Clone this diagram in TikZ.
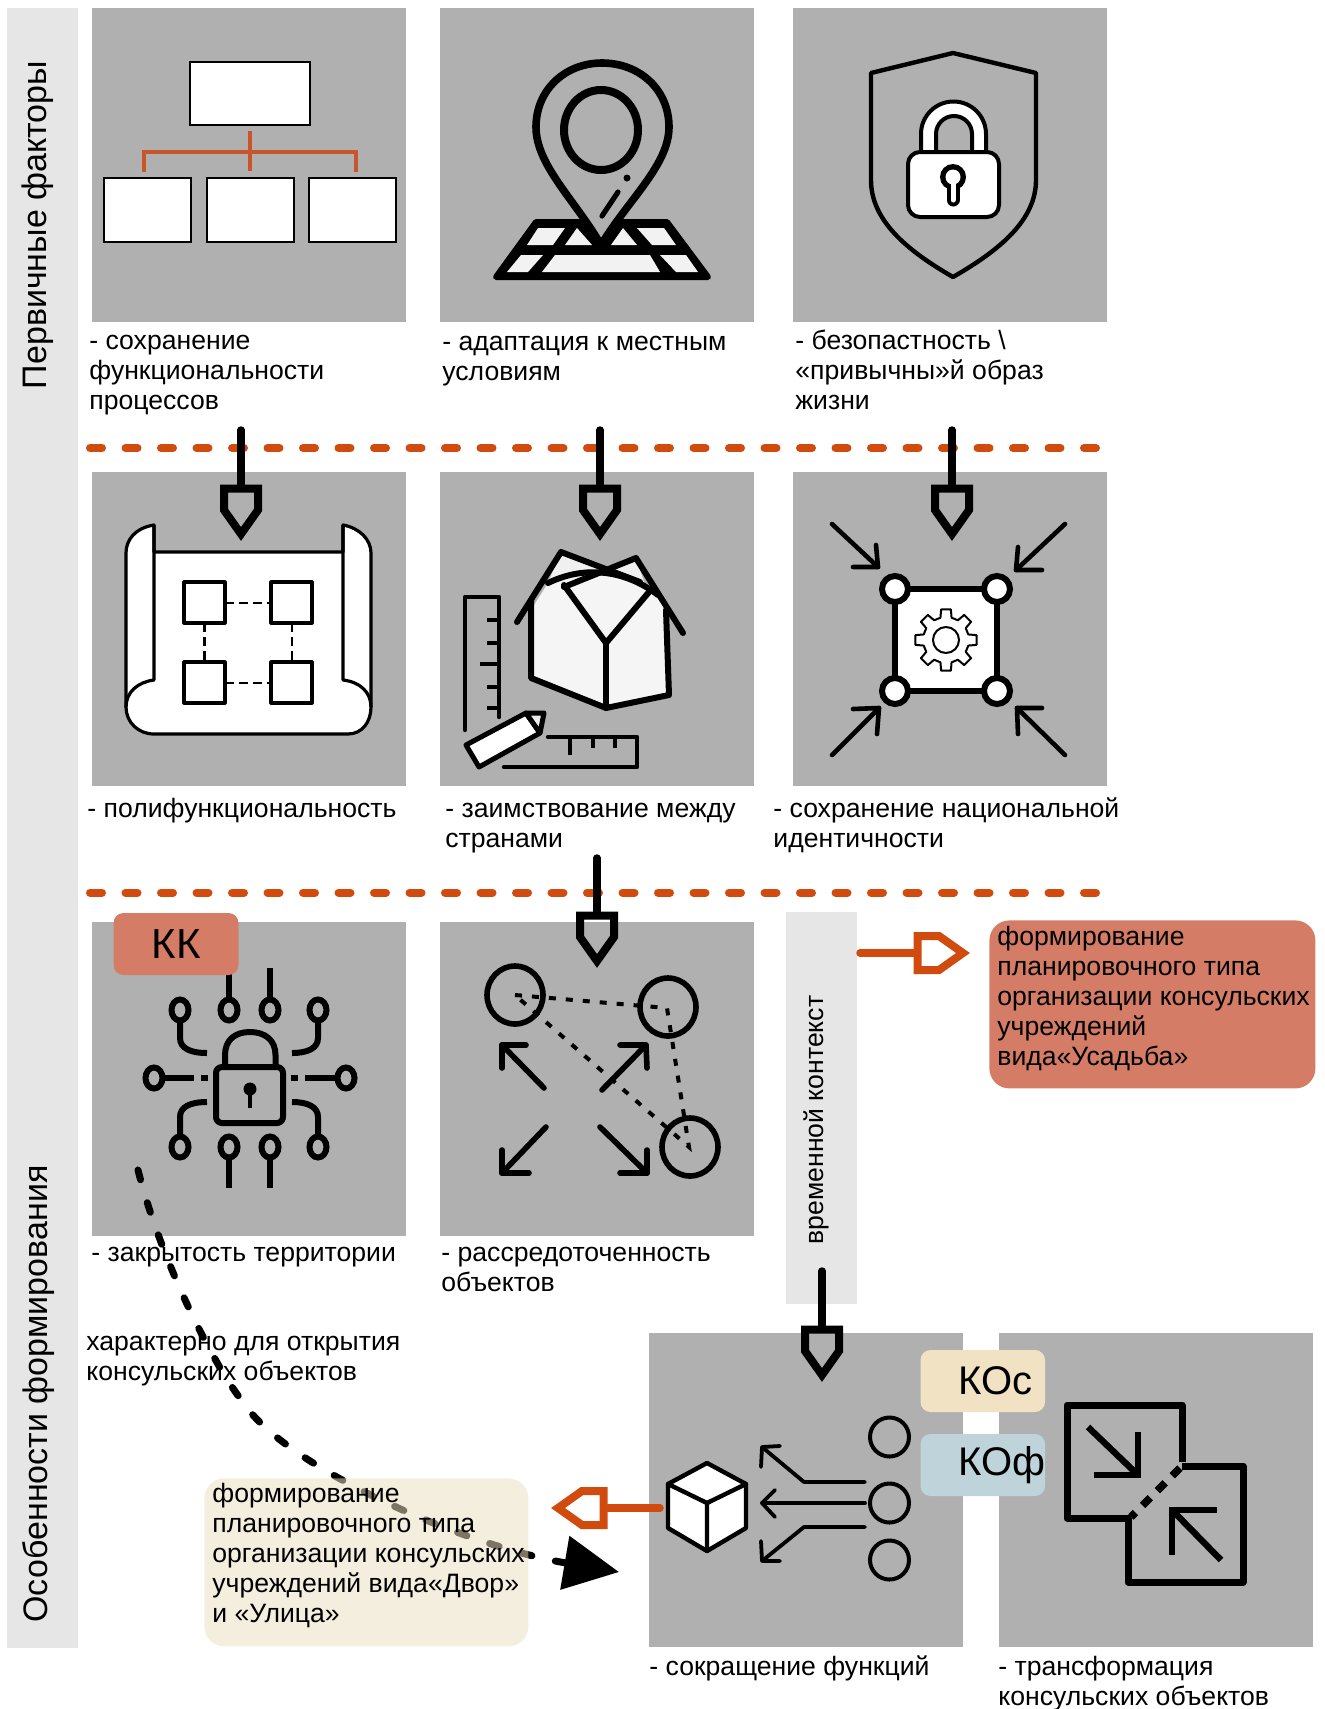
\documentclass[tikz,border=0pt]{standalone}
\usepackage{fontspec}
\setmainfont{Liberation Sans}
\usetikzlibrary{arrows.meta}
\definecolor{panelgrey}{HTML}{B0B0B0}
\definecolor{bandgrey}{HTML}{E6E6E6}
\definecolor{rust}{HTML}{D14B0F}
\definecolor{branch}{HTML}{C9552B}
\definecolor{kkred}{HTML}{D57C66}
\definecolor{kosand}{HTML}{F2E2C4}
\definecolor{kofblue}{HTML}{BFD4DA}
\definecolor{creambase}{RGB}{235,222,192}
\tikzset{
  headpent/.pic={
    \draw[line width=4pt,miter limit=10,pic actions] (-17,4.5) -- (17,4.5) -- (17,26) -- (0,50) -- (-17,26) -- cycle;
  }
}

\begin{document}
\begin{tikzpicture}[x=0.5pt, y=-0.5pt]
        \tikzstyle{panel}=[fill=panelgrey,minimum size=157pt,inner sep=0pt,anchor=north west]
        \tikzstyle{band}=[fill=bandgrey,inner sep=0pt,anchor=north west,minimum width=35.5pt]
        \tikzstyle{caption}=[inner sep=0pt,anchor=north west,align=left,font=\fontsize{13.3}{15}\selectfont]
        \tikzstyle{sidetext}=[rotate=90,inner sep=0pt]
        \tikzstyle{tag}=[rounded corners=5pt,inner sep=0pt,minimum height=31pt,font=\fontsize{20}{22}\selectfont]
        \tikzstyle{notebox}=[rounded corners=10pt,inner sep=0pt,anchor=north west]
        \tikzstyle{shaft}=[line width=3.75pt,line cap=round]
        \tikzstyle{divider}=[rust,line width=4pt,line cap=round,dash pattern=on 6pt off 11.75pt]
        \tikzstyle{ink}=[line width=2.8pt,line join=round,line cap=round]
        \tikzstyle{thinink}=[line width=1.6pt,line join=round]
        \useasboundingbox (0,0) rectangle (1325,1709);

        \node[band,minimum height=820pt] (B_1) at (7,8) {};
        \node[band,minimum height=196pt] (B_2) at (786,912) {};
        \foreach \name/\x/\y in {P_1/92/8,P_2/440/8,P_3/793/8,P_4/92/472,P_5/440/472,P_6/793/472,P_7/92/922,P_8/440/922,P_9/649/1333,P_10/999/1333}
            \node[panel] (\name) at (\x,\y) {};

        \node[sidetext,font=\fontsize{17}{20}\selectfont] (S_1) at (38,225) {Первичные факторы};
        \node[sidetext,font=\fontsize{17}{20}\selectfont] (S_2) at (39,1394) {Особенности формирования};
        \node[sidetext,font=\fontsize{13.3}{15}\selectfont] (S_3) at (816,1120) {временной контекст};

        % org chart
        \foreach \x/\y/\w/\h in {190/62/120/63,104/178/87/64,207/178/87/64,309/178/87/64}
            \draw[fill=white,line width=1.2pt] (\x,\y) rectangle ++(\w,\h);
        \draw[branch,line width=1.6pt] (250,131) -- (250,171);
        \draw[branch,line width=1.6pt] (144,172) -- (144,152) -- (356,152) -- (356,172);

        % map with pin
        \draw[ink,fill=black,line width=3pt] (536,222) -- (667,222) -- (708,277) -- (496,277) -- cycle;
        \fill[black!5] (538,228) -- (565,228) -- (553,245) -- (527,245) -- cycle
            (577,228) -- (592,245) -- (565,245) -- cycle
            (623,228) -- (637,245) -- (611,245) -- cycle
            (637,228) -- (664,228) -- (676,245) -- (652,245) -- cycle
            (521,255) -- (543,255) -- (528,272) -- (507,272) -- cycle
            (555,255) -- (650,255) -- (660,272) -- (542,272) -- cycle
            (660,255) -- (686,255) -- (698,272) -- (676,272) -- cycle;
        \draw[line width=3.8pt,fill=panelgrey,line join=round] (601,245) .. controls (575,200) and (536,165) .. (536,127) .. controls (536,90) and (565,63) .. (602,63) .. controls (640,63) and (669,90) .. (669,127) .. controls (669,165) and (628,200) .. (601,245) -- cycle;
        \draw[line width=4pt] (601,130) ellipse (37 and 40);
        \fill (627,178) circle (3.5);
        \draw[line width=2.6pt,line cap=round] (618,192) -- (602,216);

        % shield with lock
        \draw[line width=2.2pt,line join=round] (953,53) -- (1036,73) -- (1036,180) .. controls (1036,220) and (1000,250) .. (953,277) .. controls (906,250) and (871,220) .. (871,180) -- (871,73) -- cycle;
        \draw[thinink,line width=2pt,fill=white,even odd rule] (921,160) -- (921,134) arc (180:360:32.5) -- (986,160) -- cycle (936,152) -- (936,134) arc (180:360:18) -- (972,152) -- cycle;
        \draw[thinink,line width=2pt,fill=white,rounded corners=6pt] (908,152) rectangle (999,217);
        \fill (953,177) circle (13);
        \draw[line width=6.5pt,line cap=round] (953,180) -- (953,200);
        \fill[white] (953,177) circle (7.5);
        \draw[white,line width=2.5pt,line cap=round] (953,180) -- (953,200);

        % blueprint
        \draw[thinink,fill=white] (154,525) .. controls (135,528) and (126,540) .. (126,553) -- (126,707) .. controls (126,722) and (138,734) .. (154,734) -- (348,734) .. controls (362,734) and (371,722) .. (371,707) -- (371,553) .. controls (371,540) and (360,528) .. (343,525) -- (343,552) -- (154,552) -- cycle;
        \draw[thinink] (154,525) -- (154,680) .. controls (138,682) and (126,692) .. (126,707);
        \draw[thinink] (343,525) -- (343,680) .. controls (360,682) and (371,692) .. (371,707);
        \foreach \x/\y in {184/582,271/582,184/662,271/662}
            \draw[thinink] (\x,\y) rectangle ++(41,41);
        \foreach \a/\b/\c/\d in {225/603/271/603,225/683/271/683,204.5/623/204.5/662,292/623/292/662}
            \draw[line width=1.3pt,dash pattern=on 4.5pt off 2.5pt] (\a,\b) -- (\c,\d);

        % house
        \fill[black!4] (531,678) -- (606,708) -- (669,695) -- (666,610) -- (658,595) .. controls (625,570) and (585,565) .. (548,583) -- (531,610) -- cycle;
        \fill[black!6] (561,552) -- (606,570) -- (548,583) -- cycle (636,558) -- (606,570) -- (645,585) -- cycle;
        \draw[ink,line width=3pt] (531,600) -- (531,678) -- (606,708) -- (669,695) -- (666,610);
        \draw[ink,line width=3pt] (517,622) -- (561,552) -- (640,582);
        \draw[ink,line width=3pt] (683,633) -- (636,558) -- (564,587);
        \draw[ink,line width=3pt] (548,583) .. controls (585,565) and (625,570) .. (658,595);
        \draw[ink,line width=3pt] (564,585) -- (606,643) -- (649,592);
        \draw[ink,line width=3pt] (606,643) -- (606,708);
        \draw[line width=2.2pt,line join=round,line cap=round] (465,730) -- (465,597) -- (499,597) -- (499,717);
        \foreach \y/\x in {620/487,643/487,664/480,687/487,708/487}
            \draw[line width=2.2pt] (\x,\y) -- (499,\y);
        \draw[ink,line width=2.5pt,fill=white] (466,745) -- (479,767) -- (540,733) -- (526,713) -- cycle;
        \draw[ink,line width=2.5pt,fill=black!8] (526,713) -- (544,713) -- (540,733) -- cycle;
        \draw[line width=2.2pt,line join=round,line cap=round] (548,737) -- (637,737) -- (637,767) -- (504,767);
        \foreach \x/\y in {570/755,593/748,615/748}
            \draw[line width=2.2pt] (\x,737) -- (\x,\y);

        % square with gear
        \draw[line width=3pt,fill=white] (895,589) rectangle (997,691);
        \foreach \x/\y in {895/589,997/589,895/691,997/691}
            \draw[line width=3pt,fill=white] (\x,\y) circle (13);
        \draw[line width=1pt,fill=white,shift={(946,640)},line join=round] (-14:23) \foreach \a in {0,45,...,315}{ -- (\a-14:23) -- (\a-9:31) -- (\a+9:31) -- (\a+14:23)} -- cycle;
        \draw[line width=1pt] (946,640) circle (13);
        \foreach \a/\b/\c/\d/\e/\f/\g/\h in {832/524/878/567/853/567/876/545,1065/524/1016/570/1042/570/1018/547,832/755/879/708/853/709/877/734,1065/755/1017/708/1042/708/1018/734}{
            \draw[ink,line width=2.3pt] (\a,\b) -- (\c,\d);
            \draw[ink,line width=2.3pt] (\e,\f) -- (\c,\d) -- (\g,\h);
        }

        % circuit lock
        \draw[ink,line width=3pt,line cap=butt,rounded corners=3pt] (216,1067) rectangle (283,1123);
        \draw[ink,line width=3pt] (225,1067) -- (225,1055) .. controls (225,1040) and (235,1032) .. (250,1032) .. controls (265,1032) and (275.5,1040) .. (275.5,1055) -- (275.5,1067);
        \fill (250,1089) circle (6.5);
        \draw[line width=2.4pt] (250,1089) -- (250,1108);
        \foreach \x/\y in {180/1010,229/1010,270/1010,318/1010,180/1147,229/1147,270/1147,318/1147,154/1078,346/1078}
            \draw[line width=3pt] (\x,\y) ellipse (8.5 and 10.5);
        \foreach \x in {229,270}{
            \draw[line width=3pt] (\x,1000) -- (\x,968);
            \draw[line width=3pt] (\x,1157) -- (\x,1188);
        }
        \draw[line width=3pt] (180,1020) -- (180,1038) .. controls (180,1048) and (190,1053) .. (207,1053);
        \draw[line width=3pt] (318,1020) -- (318,1038) .. controls (318,1048) and (308,1053) .. (292,1053);
        \draw[line width=3pt] (180,1137) -- (180,1117) .. controls (180,1107) and (190,1102) .. (207,1102);
        \draw[line width=3pt] (318,1137) -- (318,1117) .. controls (318,1107) and (308,1102) .. (292,1102);
        \draw[line width=3pt] (163,1078) -- (194,1078) (201,1078) -- (208,1078);
        \draw[line width=3pt] (337,1078) -- (305,1078) (298,1078) -- (291,1078);

        % scattered objects
        \foreach \x/\y in {515/995,668/1007,690/1147}
            \draw[line width=2.8pt] (\x,\y) ellipse (28 and 29);
        \draw[line width=2pt,dash pattern=on 3.5pt off 5pt] (515,995) -- (667,1008) -- (689,1147) -- cycle;
        \foreach \a/\b/\c/\d/\e/\f/\g/\h in {544/1088/502/1045/526/1045/502/1068,602/1090/646/1045/620/1045/647/1068,546/1127/502/1173/502/1150/529/1173,600/1127/647/1173/647/1150/620/1173}{
            \draw[ink] (\a,\b) -- (\c,\d);
            \draw[ink] (\e,\f) -- (\c,\d) -- (\g,\h);
        }

        % cube with outgoing arrows
        \draw[ink,line width=2.2pt,fill=white] (707,1463) -- (746,1484) -- (746,1528) -- (707,1551) -- (668,1528) -- (668,1484) -- cycle;
        \draw[ink,line width=2.2pt] (668,1484) -- (707,1503) -- (746,1484) (707,1503) -- (707,1551);
        \foreach \y in {1437,1503,1560}
            \draw[line width=2pt] (889.5,\y) circle (19.5);
        \draw[ink,line width=1.9pt] (865,1503) -- (762,1503);
        \draw[ink,line width=1.9pt] (775,1490) -- (762,1503) -- (775,1517);
        \draw[ink,line width=1.9pt] (865,1482) -- (804,1482) -- (762,1447);
        \draw[ink,line width=1.9pt] (780,1446) -- (762,1447) -- (761,1467);
        \draw[ink,line width=1.9pt] (865,1527) -- (804,1527) -- (762,1561);
        \draw[ink,line width=1.9pt] (780,1561) -- (762,1561) -- (761,1541);

        % merging squares
        \draw[line width=3.5pt,line join=round] (1182,1462) -- (1182,1405) -- (1067,1405) -- (1067,1518) -- (1131,1518);
        \draw[line width=3.5pt,line join=round] (1182,1466) -- (1243,1466) -- (1243,1582) -- (1128,1582) -- (1128,1518);
        \draw[line width=3.8pt,dash pattern=on 5.5pt off 5pt] (1180,1468) -- (1131,1517);
        \draw[ink,line width=3.2pt,line cap=butt,line join=miter] (1088,1427) -- (1138,1475);
        \draw[ink,line width=3.2pt,line cap=butt,line join=miter] (1138,1432) -- (1138,1475) -- (1094,1475);
        \draw[ink,line width=3.2pt,line cap=butt,line join=miter] (1221,1560) -- (1172,1510);
        \draw[ink,line width=3.2pt,line cap=butt,line join=miter] (1217,1510) -- (1172,1510) -- (1172,1555);

        % captions
        \node[caption] (L_1) at (89,328) {\strut- сохранение\\функциональности\\процессов};
        \node[caption] (L_2) at (442,329) {\strut- адаптация к местным\\условиям};
        \node[caption] (L_3) at (795,328) {\strut- безопастность \textbackslash\\«привычны»й образ\\жизни};
        \node[caption] (L_4) at (87,796) {\strut- полифункциональность};
        \node[caption] (L_5) at (445,796) {\strut- заимствование между\\странами};
        \node[caption] (L_6) at (773,796) {\strut- сохранение национальной\\идентичности};
        \node[caption] (L_7) at (91,1240) {\strut- закрытость территории};
        \node[caption] (L_8) at (441,1240) {\strut- рассредоточенность\\объектов};
        \node[caption] (L_9) at (86,1329) {\strut характерно для открытия\\консульских объектов};
        \node[caption] (L_10) at (649,1654) {\strut- сокращение функций};
        \node[caption] (L_11) at (998,1654) {\strut- трансформация\\консульских объектов};

        % dividers and arrows
        \coordinate (D_1a) at (90,448);
        \coordinate (D_1b) at (1097,448);
        \coordinate (D_2a) at (90,892.5);
        \coordinate (D_2b) at (1097,892.5);
        \draw[divider] (D_1a) -- (D_1b);
        \draw[divider] (D_2a) -- (D_2b);
        \foreach \name/\x/\a/\b in {A_1/241/430/484,A_2/600/430/484,A_3/952/430/484,A_4/597/858/911,A_5/822/1271/1325}{
            \coordinate (\name s) at (\x,\a);
            \coordinate (\name e) at (\x,\b);
            \draw[shaft] (\name s) -- (\name e);
            \pic[draw=black] at (\name e) {headpent};
        }
        \coordinate (O_1s) at (860,953);
        \coordinate (O_1e) at (913,953);
        \draw[shaft,rust] (O_1s) -- (O_1e);
        \pic[draw=rust,rotate=90] at (O_1e) {headpent};
        \coordinate (O_2s) at (660,1508);
        \coordinate (O_2e) at (608,1508);
        \draw[shaft,rust] (O_2s) -- (O_2e);
        \pic[draw=rust,rotate=-90] at (O_2e) {headpent};

        % dashed route, under the cream box
        \coordinate (R_s) at (138,1170);
        \coordinate (R_m) at (243,1402);
        \coordinate (R_e) at (619,1572);
        \draw[line width=3.5pt,line cap=round,dash pattern=on 5pt off 12pt,-{Triangle[length=27.5pt,width=26.5pt,sep=0pt]}] (R_s) .. controls (160,1258) and (213,1365) .. (R_m) .. controls (283,1465) and (460,1545) .. (R_e);

        \node[notebox,fill=creambase,fill opacity=.53,minimum width=162pt,minimum height=84pt] (N_1) at (204,1478) {};
        \node[caption] (N_1t) at (212,1481) {\strut формирование\\планировочного типа\\организации консульских\\учреждений вида«Двор»\\и «Улица»};
        \node[notebox,fill=kkred,minimum width=163pt,minimum height=84pt] (N_2) at (989,920) {};
        \node[caption] (N_2t) at (997,924) {\strut формирование\\планировочного типа\\организации консульских\\учреждений\\вида«Усадьба»};

        \node[tag,fill=kkred,minimum width=62.5pt,font=\fontsize{21}{23}\selectfont] (T_1) at (176,944) {КК};
        \node[tag,fill=kosand,text width=62.25pt,align=left] (T_2) at (982.75,1381) {\hspace*{19pt}КОс};
        \node[tag,fill=kofblue,text width=62.25pt,align=left] (T_3) at (982.75,1465) {\hspace*{19pt}\raisebox{-1.5pt}{КОф}};
\end{tikzpicture}
\end{document}
